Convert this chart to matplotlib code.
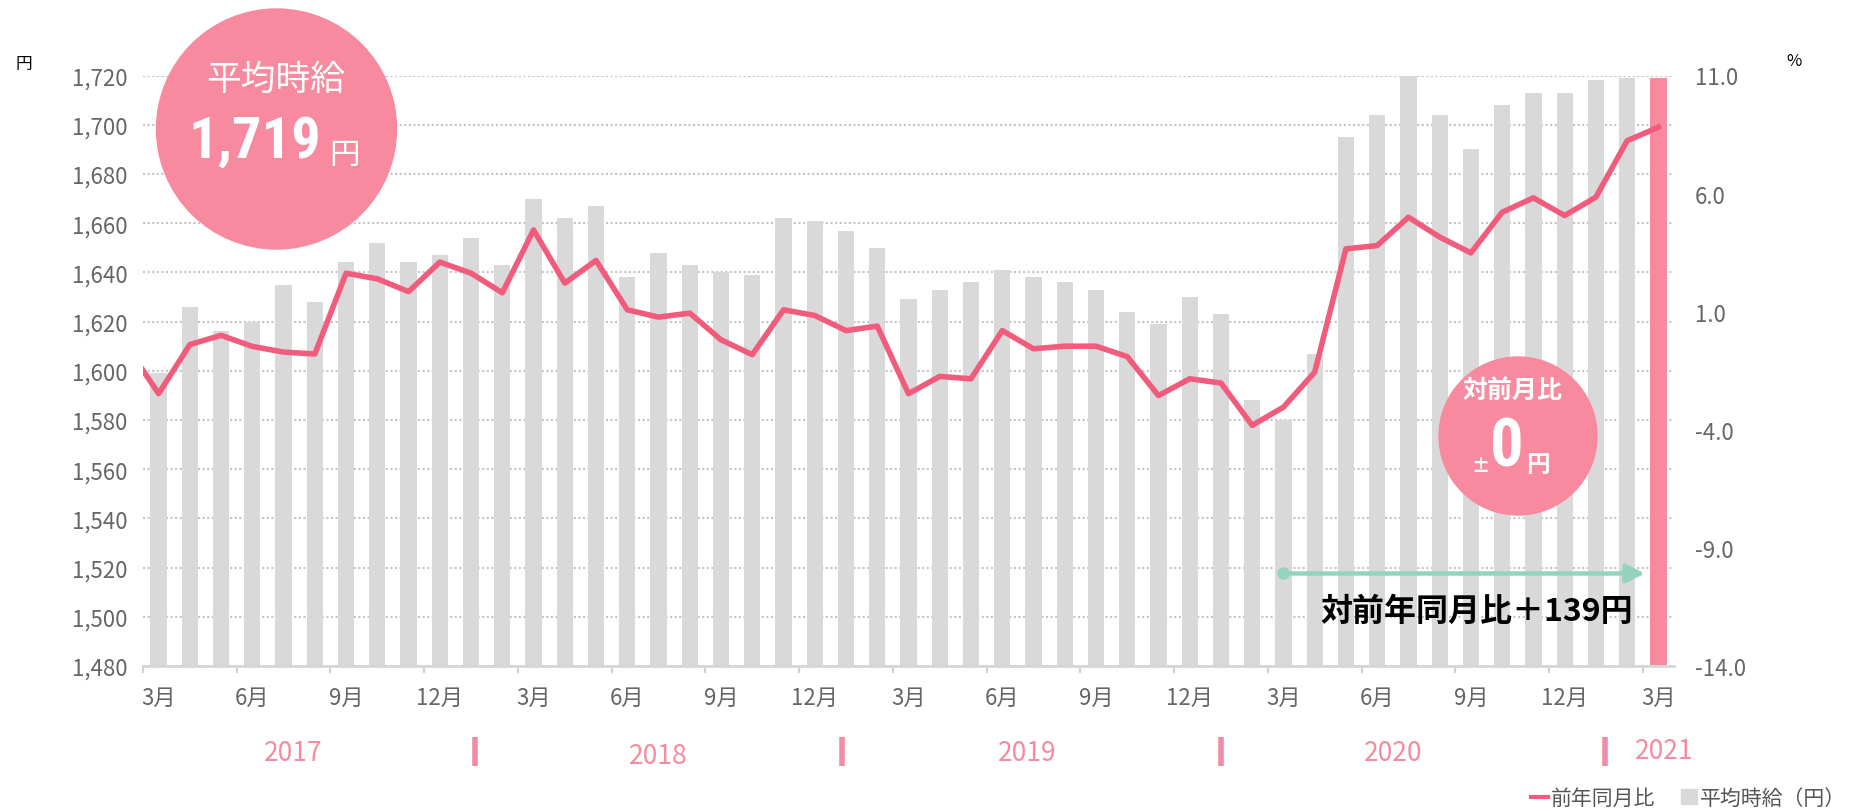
import numpy as np
import matplotlib
matplotlib.use('Agg')
import matplotlib.pyplot as plt
import matplotlib.transforms as mtransforms
from matplotlib import font_manager as fm
from matplotlib.patches import Ellipse, Patch
from matplotlib.lines import Line2D

plt.rcParams['font.family'] = ['Noto Sans CJK JP', 'DejaVu Sans']

# データ (2017年3月〜2021年3月)
start_year, start_month = 2017, 3
wage = [1599, 1626, 1616, 1620, 1635, 1628, 1644, 1652, 1644, 1647,
        1654, 1643, 1670, 1662, 1667, 1638, 1648, 1643, 1640, 1639, 1662, 1661,
        1657, 1650, 1629, 1633, 1636, 1641, 1638, 1636, 1633, 1624, 1619, 1630,
        1623, 1588, 1580, 1607, 1695, 1704, 1720, 1704, 1690, 1708, 1713, 1713,
        1718, 1719, 1719]
yoy_prev = -0.5  # 2017年2月 (左端で切れている)
yoy = [-2.47, -0.39, 0.0, -0.47, -0.71, -0.79, 2.63, 2.39, 1.85, 3.1,
       2.63, 1.8, 4.46, 2.21, 3.17, 1.08, 0.77, 0.94, -0.19, -0.82, 1.08, 0.84,
       0.2, 0.39, -2.47, -1.74, -1.84, 0.2, -0.57, -0.46, -0.46, -0.9, -2.55, -1.84,
       -2.02, -3.81, -3.04, -1.56, 3.66, 3.8, 5.0, 4.16, 3.49, 5.21, 5.82, 5.07,
       5.85, 8.24, 8.81]
right_ticks = [11.0, 6.0, 1.0, -4.0, -9.0, -14.0]
left_ticks = list(range(1480, 1721, 20))

n = len(wage)
months = [(start_year + (start_month - 1 + i) // 12, (start_month - 1 + i) % 12 + 1) for i in range(n)]
x = np.arange(n)

W, H = 1852, 812
def fx(p): return p / W
def fy(p): return 1 - p / H

PINK = '#f78a9e'
LINE = '#f25c7c'
GRAY_BAR = '#d9d9d9'
TXT = '#666666'
MINT = '#93d3bf'
YEAR = '#f48ba0'

fig = plt.figure(figsize=(W / 100, H / 100), dpi=100)
ax = fig.add_axes([fx(143), fy(667), (1674 - 143) / W, (667 - 76.5) / H])

colors = [GRAY_BAR] * (n - 1) + [PINK]
ax.bar(x, wage, width=0.52, color=colors, zorder=2)
ax.set_ylim(1480, 1720)
ax.set_xlim(-0.5, n - 0.5)
ax.set_axisbelow(True)
ax.yaxis.grid(True, color='#c4c4c4', linestyle=(0, (1, 1.2)), linewidth=1.5)

for s in ['top', 'left', 'right']:
    ax.spines[s].set_visible(False)
ax.spines['bottom'].set_color('#d6d6d6')
ax.spines['bottom'].set_linewidth(2)

ax.set_yticks(left_ticks, labels=[f'{v:,}' for v in left_ticks])
ax.tick_params(axis='y', length=0, pad=11, labelsize=16, labelcolor=TXT)

label_idx = list(range(0, n, 3))
ax.set_xticks([i - 0.5 for i in label_idx], labels=[''] * len(label_idx))
ax.set_xticks(label_idx, labels=[f'{months[i][1]}月' for i in label_idx], minor=True)
ax.tick_params(axis='x', which='major', length=5, width=1.5, color='#d0d0d0')
ax.tick_params(axis='x', which='minor', length=0, pad=14, labelsize=16, labelcolor=TXT)

# 前年同月比 (右軸)
ax2 = ax.twinx()
ax2.plot(np.concatenate([[-1], x]), [yoy_prev] + yoy, color=LINE, lw=4, zorder=3)
ax2.set_ylim(-14, 11)
ax2.set_yticks(right_ticks, labels=[f'{v:.1f}' for v in right_ticks])
ax2.tick_params(axis='y', length=0, pad=15, labelsize=16, labelcolor=TXT)
for s in ax2.spines.values():
    s.set_visible(False)

# 年ラベルと区切り
blend = mtransforms.blended_transform_factory(ax.transData, fig.transFigure)
years = sorted(set(y for y, m in months))
year_pos = [(4.3, 754), (16.0, 757), (27.8, 754), (39.5, 754), (48.2, 752)]
for yr, (xc, yc) in zip(years, year_pos):
    ax.text(xc, fy(yc), str(yr), transform=blend, ha='center', va='center',
            fontsize=19, color=YEAR)
for xs in [10.13, 21.88, 34.0, 46.3]:
    ax.plot([xs, xs], [fy(738), fy(767)], transform=blend, clip_on=False,
            color=YEAR, lw=4, solid_capstyle='butt')

# 前年同月比の矢印
i_prev = months.index((months[-1][0] - 1, months[-1][1]))
arrow_y = 1517.6
ax.annotate('', xy=(n - 1.43, arrow_y), xytext=(i_prev, arrow_y),
            arrowprops=dict(arrowstyle='-|>', color=MINT, lw=3.2, mutation_scale=28,
                            shrinkA=0, shrinkB=0), zorder=4)
ax.plot([i_prev], [arrow_y], 'o', color=MINT, ms=8, zorder=4)
diff = wage[-1] - wage[i_prev]
ax.text(n - 1.81, 1502.5, f'対前年同月比＋{diff}円', ha='right', va='center',
        fontsize=23, fontweight='bold', color='black', zorder=5)

# 吹き出しの数字用に細身の太字フォントを探す
big, big_size = dict(family='DejaVu Sans', weight='bold'), 34
prefer = ['Liberation Sans Narrow', 'Roboto Condensed', 'Open Sans Condensed',
          'Noto Sans Condensed', 'Noto Sans ExtraCondensed', 'DejaVu Sans Condensed']
found = {}
for f in fm.fontManager.ttflist:
    w = f.weight if isinstance(f.weight, int) else (700 if f.weight == 'bold' else 400)
    if w >= 600 and f.style == 'normal':
        found.setdefault(f.name, set()).add(f.stretch)
for name in prefer:
    if name in found:
        big, big_size = dict(family=name, weight='bold'), 42
        break
else:
    for name in ['Noto Sans', 'DejaVu Sans', 'Roboto', 'Open Sans']:
        if name in found and any(s in ('condensed', 'extra-condensed', 'semi-condensed')
                                 for s in found[name]):
            big, big_size = dict(family=name, weight='bold', stretch='condensed'), 40
            break

fig.add_artist(Ellipse((fx(276.5), fy(130)), 240 / W, 240 / H, transform=fig.transFigure,
                       color=PINK, zorder=5))
fig.text(fx(275.5), fy(80), '平均時給', ha='center', va='center', fontsize=25,
         color='white', zorder=6)
fig.text(fx(255), fy(142.5), f'{wage[-1]:,}', ha='center', va='center', fontsize=big_size,
         color='white', zorder=6, **big)
fig.text(fx(345), fy(155), '円', ha='center', va='center', fontsize=22,
         color='white', zorder=6)

fig.add_artist(Ellipse((fx(1518), fy(437)), 158 / W, 158 / H, transform=fig.transFigure,
                       color=PINK, zorder=5))
fig.text(fx(1513), fy(391), '対前月比', ha='center', va='center', fontsize=18,
         fontweight='bold', color='white', zorder=6)
mom = wage[-1] - wage[-2]
fig.text(fx(1480), fy(467), '±', ha='center', va='center', fontsize=13,
         fontweight='bold', color='white', zorder=6)
fig.text(fx(1506.5), fy(449), f'{abs(mom)}', ha='center', va='center',
         fontsize=big_size + 6, color='white', zorder=6, **big)
fig.text(fx(1538), fy(465), '円', ha='center', va='center', fontsize=17,
         fontweight='bold', color='white', zorder=6)

# 単位
fig.text(fx(24), fy(65), '円', ha='center', va='center', fontsize=12, color='black')
fig.text(fx(1794), fy(61), '%', ha='center', va='center', fontsize=12, color='black')

# 凡例
handles = [Line2D([0], [0], color=LINE, lw=3), Patch(color=GRAY_BAR)]
fig.legend(handles, ['前年同月比', '平均時給（円）'], loc='center right',
           bbox_to_anchor=(0.997, fy(799)), ncol=2, frameon=False, fontsize=15,
           handlelength=0.8, handleheight=0.75, handletextpad=0.15, columnspacing=1.2,
           borderpad=0, borderaxespad=0, labelcolor='#555555')

fig.savefig('out.png', dpi=100)
